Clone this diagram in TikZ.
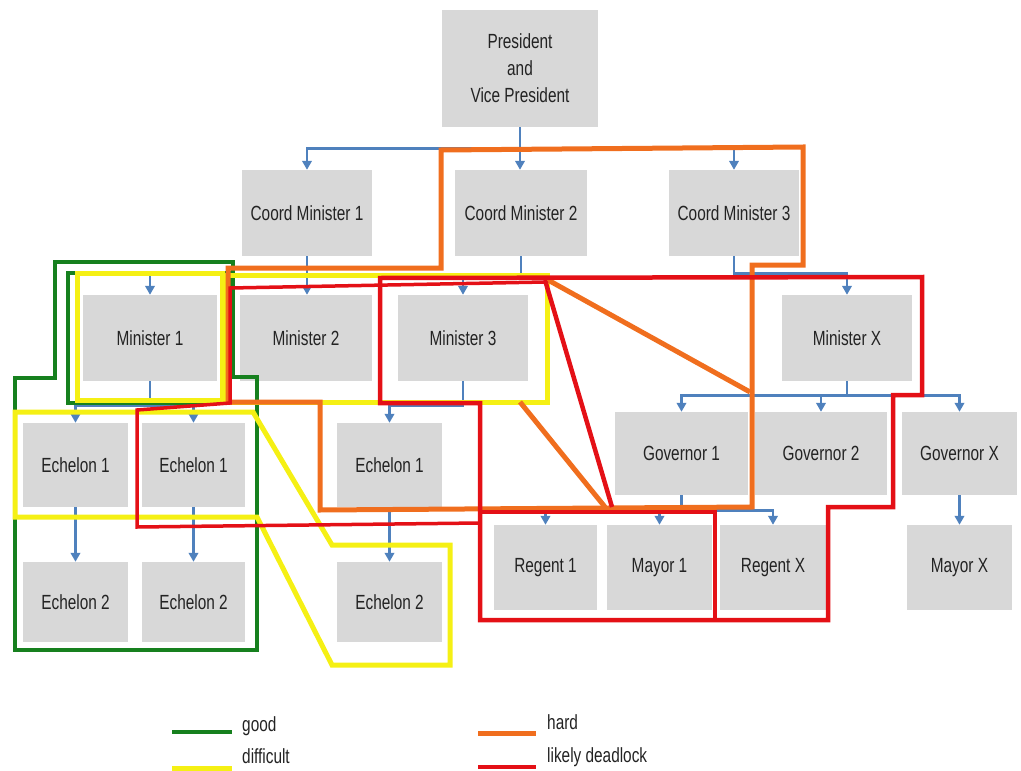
\documentclass[tikz,border=0pt]{standalone}
\usepackage{fontspec}
\setmainfont{Liberation Sans}[FakeStretch=0.75]
\usetikzlibrary{arrows.meta}
\definecolor{boxgray}{RGB}{216,216,216}
\definecolor{txtgray}{RGB}{35,35,35}
\definecolor{connblue}{RGB}{79,129,189}
\definecolor{cgood}{RGB}{22,128,30}
\definecolor{cdiff}{RGB}{245,240,20}
\definecolor{chard}{RGB}{240,110,30}
\definecolor{cdead}{RGB}{228,16,22}
\begin{document}
\begin{tikzpicture}[x=1pt,y=-1pt,
  box/.style={fill=boxgray, inner sep=0pt, text=txtgray, font=\fontsize{20.5}{27}\selectfont, align=center},
  legtext/.style={inner sep=0pt, text=txtgray, font=\fontsize{20.5}{24}\selectfont, anchor=base west},
  conn/.style={draw=connblue, line width=2.6pt},
  arr/.style={conn, -{Triangle[width=9.5pt,length=9pt]}},
  good/.style={draw=cgood, line width=4pt},
  diff/.style={draw=cdiff, line width=5pt},
  hard/.style={draw=chard, line width=5pt},
  dead/.style={draw=cdead, line width=4.5pt}
]
\useasboundingbox (0,0) rectangle (1021,771);

% ---------- boxes ----------
\node[box,minimum width=156pt,minimum height=117pt] (pres) at (520,68.5) {President\\and\\Vice President};
\node[box,minimum width=130pt,minimum height=86pt] (cm1) at (307,213) {Coord Minister 1};
\node[box,minimum width=132pt,minimum height=86pt] (cm2) at (521,213) {Coord Minister 2};
\node[box,minimum width=130pt,minimum height=86pt] (cm3) at (734,213) {Coord Minister 3};

\node[box,minimum width=134pt,minimum height=86pt] (m1) at (150,338) {Minister 1};
\node[box,minimum width=132pt,minimum height=86pt] (m2) at (306,338) {Minister 2};
\node[box,minimum width=130pt,minimum height=86pt] (m3) at (463,338) {Minister 3};
\node[box,minimum width=130pt,minimum height=86pt] (mx) at (847,338) {Minister X};

\node[box,minimum width=105pt,minimum height=84pt] (e1a) at (75.5,465) {Echelon 1};
\node[box,minimum width=103pt,minimum height=84pt] (e1b) at (193.5,465) {Echelon 1};
\node[box,minimum width=105pt,minimum height=84pt] (e1c) at (389.5,465) {Echelon 1};
\node[box,minimum width=105pt,minimum height=80pt] (e2a) at (75.5,602) {Echelon 2};
\node[box,minimum width=103pt,minimum height=80pt] (e2b) at (193.5,602) {Echelon 2};
\node[box,minimum width=105pt,minimum height=80pt] (e2c) at (389.5,602) {Echelon 2};

\node[box,minimum width=133pt,minimum height=83pt] (g1) at (681.5,453.5) {Governor 1};
\node[box,minimum width=132pt,minimum height=83pt] (g2) at (821,453.5) {Governor 2};
\node[box,minimum width=115pt,minimum height=83pt] (gx) at (959.5,453.5) {Governor X};

\node[box,minimum width=103pt,minimum height=85pt] (r1) at (545.5,567.5) {Regent 1};
\node[box,minimum width=105pt,minimum height=85pt] (my1) at (659.5,567.5) {Mayor 1};
\node[box,minimum width=106pt,minimum height=85pt] (rx) at (773,567.5) {Regent X};
\node[box,minimum width=105pt,minimum height=85pt] (myx) at (959.5,567.5) {Mayor X};

% ---------- blue connectors ----------
\draw[arr] (pres.south) -- (pres.south |- cm2.north);
\draw[arr] (pres.south) -- ++(0,21) -| (cm1.north);
\draw[arr] (pres.south) -- ++(0,21) -| (cm3.north);
\draw[arr] (cm1.south) -- (cm1.south |- m2.north);
\draw[conn] (cm2.south) -- ++(0,18) coordinate (b2);
\draw[arr] (b2) -| (m1.north);
\draw[arr] (b2) -| (m3.north);
\draw[arr] (cm3.south) -- ++(0,17) -| (mx.north);
\draw[arr] (mx.south) -- ++(0,14) -| (g1.north);
\draw[arr] (mx.south) -- ++(0,14) -| (g2.north);
\draw[arr] (mx.south) -- ++(0,14) -| (gx.north);
\draw[arr] (g1.south) -- ++(0,15) -| (r1.north);
\draw[arr] (g1.south) -- ++(0,15) -| (my1.north);
\draw[arr] (g1.south) -- ++(0,15) -| (rx.north);
\draw[arr] (gx.south) -- (gx.south |- myx.north);
\draw[arr] (m1.south) -- ++(0,24) -| (e1a.north);
\draw[arr] (m1.south) -- ++(0,24) -| (e1b.north);
\draw[arr] (m3.south) -- ++(0,24) -| (e1c.north);
\draw[arr] (e1a.south) -- (e1a.south |- e2a.north);
\draw[arr] (e1b.south) -- (e1b.south |- e2b.north);
\draw[arr] (e1c.south) -- (e1c.south |- e2c.north);

% ---------- coloured outlines ----------
% good
\draw[good] (55,262) -- (233,262) -- (233,377) -- (257,377) -- (257,650) -- (15,650) -- (15,378) -- (55,378) -- cycle;
\draw[good, line width=3.5pt] (68,273) rectangle (229,403);
% difficult
\draw[diff] (77,273) rectangle (222,400);
\draw[diff] (15,412) -- (253,412) -- (332,545) -- (450,545) -- (450,665) -- (332,665) -- (257,517) -- (15,517) -- cycle;
\draw[diff] (225,275) rectangle (547,402);
% hard
\draw[hard] (441,150) -- (441,268) -- (228,268) -- (228,402) -- (320,402) -- (320,510) -- (752,507) -- (752,265) -- (803,265) -- (803,147) -- cycle;
\draw[hard] (548,280) -- (750,392);
\draw[hard] (520,402) -- (605,507);
% likely deadlock
\draw[dead] (380,278) -- (922,277) -- (922,395) -- (893,395) -- (893,507) -- (828,507) -- (828,620) -- (480,620) -- (480,403) -- (380,403) -- cycle;
\draw[dead, line width=3.5pt] (545,282) -- (230,288) -- (230,403) -- (137,410) -- (137,527) -- (480,523);
\draw[dead] (545,280) -- (612,507);
\draw[dead] (480,512) -- (715,512) -- (715,620);

% ---------- legend ----------
\draw[good] (172,732) -- (232,732);
\node[legtext] (tgood) at (242,731) {good};
\draw[diff] (172,768) -- (232,768);
\node[legtext] (tdiff) at (242,763) {difficult};
\draw[hard] (478,733) -- (536,733);
\node[legtext] (thard) at (547,729) {hard};
\draw[dead] (478,767) -- (536,767);
\node[legtext] (tdead) at (547,762) {likely deadlock};
\end{tikzpicture}
\end{document}
